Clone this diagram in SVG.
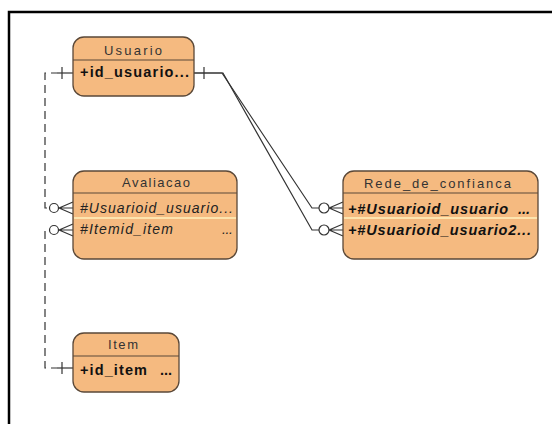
<svg xmlns="http://www.w3.org/2000/svg" width="552" height="424" viewBox="0 0 552 424">
  <style>
    .ent { fill: #F5BA80; stroke: #5A4838; stroke-width: 1.3; }
    .sep { stroke: #5A4838; stroke-width: 1.2; }
    .rowsep { stroke: #FFF2BE; stroke-width: 1.5; }
    .hdr { font-family: "Liberation Sans", Arial, sans-serif; font-size: 13px; fill: #333; }
    .pk { font-family: "Liberation Sans", Arial, sans-serif; font-size: 14.5px; font-weight: bold; fill: #111; }
    .fk { font-family: "Liberation Sans", Arial, sans-serif; font-size: 14px; font-style: italic; fill: #222; }
    .pfk { font-family: "Liberation Sans", Arial, sans-serif; font-size: 14.5px; font-weight: bold; font-style: italic; fill: #111; }
    .line { fill: none; stroke: #333; stroke-width: 1.2; }
    .dash { stroke-dasharray: 8 5; }
    .mark { fill: none; stroke: #333; stroke-width: 1.2; }
    .ring { fill: #fff; stroke: #333; stroke-width: 1.2; }
  </style>

  <!-- diagram frame -->
  <rect x="9" y="12" width="580" height="440" fill="#fff" stroke="#000" stroke-width="2.5"/>

  <!-- relationships -->
  <g id="connectors">
    <!-- Usuario -> Avaliacao (non-identifying) -->
    <g id="rel-usuario-avaliacao">
      <path class="line dash" stroke-dashoffset="2" d="M57,73 H45 V208 H49"/>
      <line class="line" x1="57" y1="73" x2="73" y2="73"/>
      <line class="mark" x1="62" y1="67" x2="62" y2="79"/>
      <circle class="ring" cx="54" cy="208" r="4.5"/>
      <path class="mark" d="M59,208 H73 M59,208 L73,202 M59,208 L73,214"/>
    </g>
    <!-- Item -> Avaliacao (non-identifying) -->
    <g id="rel-item-avaliacao">
      <path class="line dash" stroke-dashoffset="2" d="M57,368 H45 V230 H49"/>
      <line class="line" x1="57" y1="368" x2="73" y2="368"/>
      <line class="mark" x1="62" y1="362" x2="62" y2="374"/>
      <circle class="ring" cx="54" cy="230" r="4.5"/>
      <path class="mark" d="M59,230 H73 M59,230 L73,224 M59,230 L73,236"/>
    </g>
    <!-- Usuario -> Rede_de_confianca (two identifying links) -->
    <g id="rel-usuario-rede-1">
      <path class="line" d="M194,73 H222 L312,208 H319"/>
      <circle class="ring" cx="324" cy="208" r="5"/>
      <path class="mark" d="M329,208 H343 M329,208 L343,202 M329,208 L343,214"/>
    </g>
    <g id="rel-usuario-rede-2">
      <path class="line" d="M194,73 H223 L312,230 H319"/>
      <circle class="ring" cx="324" cy="230" r="5"/>
      <path class="mark" d="M329,230 H343 M329,230 L343,224 M329,230 L343,236"/>
    </g>
    <line class="mark" x1="204" y1="67" x2="204" y2="79"/>
  </g>

  <!-- entities -->
  <g id="usuario">
    <rect class="ent" x="73" y="37" width="121" height="59" rx="11"/>
    <line class="sep" x1="73" y1="60" x2="194" y2="60"/>
    <text class="hdr" x="104" y="55" textLength="58" lengthAdjust="spacing">Usuario</text>
    <text class="pk" x="80" y="77" textLength="109" lengthAdjust="spacing">+id_usuario...</text>
  </g>

  <g id="avaliacao">
    <rect class="ent" x="73" y="171" width="164" height="88" rx="11"/>
    <line class="sep" x1="73" y1="193" x2="237" y2="193"/>
    <line class="rowsep" x1="74" y1="218" x2="236" y2="218"/>
    <text class="hdr" x="122" y="187" textLength="68" lengthAdjust="spacing">Avaliacao</text>
    <text class="fk" x="80" y="213" textLength="153" lengthAdjust="spacing">#Usuarioid_usuario...</text>
    <text class="fk" x="80" y="234" textLength="93" lengthAdjust="spacing">#Itemid_item</text>
    <text class="fk" x="222" y="234" textLength="11" lengthAdjust="spacing">...</text>
  </g>

  <g id="rede_de_confianca">
    <rect class="ent" x="343" y="171" width="195" height="88" rx="11"/>
    <line class="sep" x1="343" y1="193" x2="538" y2="193"/>
    <line class="rowsep" x1="344" y1="218" x2="537" y2="218"/>
    <text class="hdr" x="364" y="188" textLength="147" lengthAdjust="spacing">Rede_de_confianca</text>
    <text class="pfk" x="348" y="214" textLength="160" lengthAdjust="spacing">+#Usuarioid_usuario</text>
    <text class="pfk" x="518" y="214">...</text>
    <text class="pfk" x="348" y="235" textLength="183" lengthAdjust="spacing">+#Usuarioid_usuario2...</text>
  </g>

  <g id="item">
    <rect class="ent" x="73" y="333" width="106" height="59" rx="11"/>
    <line class="sep" x1="73" y1="356" x2="179" y2="356"/>
    <text class="hdr" x="108" y="349" textLength="30" lengthAdjust="spacing">Item</text>
    <text class="pk" x="80" y="375" textLength="67" lengthAdjust="spacing">+id_item</text>
    <text class="pk" x="160" y="375">...</text>
  </g>
</svg>
